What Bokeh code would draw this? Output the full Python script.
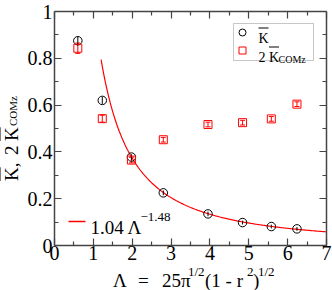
import numpy as np
from bokeh.plotting import figure
from bokeh.models import (Label, LinearAxis, FixedTicker, CustomJSTickFormatter,
                          BoxAnnotation, Range1d, Whisker, ColumnDataSource, TeeHead, Div)
from bokeh.layouts import row, column
from bokeh.embed import file_html
from bokeh.resources import INLINE

# ---------------- data ----------------
lam = [0.6, 1.23, 1.98, 2.8, 3.95, 4.84, 5.58, 6.24]
K_bar = [0.875, 0.62, 0.378, 0.225, 0.135, 0.098, 0.081, 0.071]
K_bar_err = [0.018, 0.015, 0.012, 0.01, 0.01, 0.008, 0.008, 0.008]
K_comz2 = [0.843, 0.542, 0.365, 0.452, 0.517, 0.525, 0.541, 0.604]
K_comz2_err = [0.022, 0.015, 0.012, 0.01, 0.01, 0.01, 0.01, 0.01]
fit_a = 1.04
fit_b = -1.48
fit_start = 1.2
x_ticks = [0, 1, 2, 3, 4, 5, 6, 7]
y_ticks = [0, 0.2, 0.4, 0.6, 0.8, 1.0]
x_minor = [0.5, 1.5, 2.5, 3.5, 4.5, 5.5, 6.5]
y_minor = [0.1, 0.3, 0.5, 0.7, 0.9]

FONT = "Liberation Serif"
QFONT = "'Liberation Serif', 'Times New Roman', serif"
RED = "#ff0000"
AX = "#444444"

YDIV_W = 22
FIG_W, FIG_H = 310, 266
XDIV_H = 24
MB_L, MB_R, MB_T, MB_B = 32, 6, 11, 21

p = figure(width=FIG_W, height=FIG_H, output_backend="svg", toolbar_location=None,
           x_range=Range1d(0, 7), y_range=Range1d(0, 1),
           min_border_left=MB_L, min_border_right=MB_R,
           min_border_top=MB_T, min_border_bottom=MB_B,
           x_axis_location=None, y_axis_location=None, margin=0)
p.grid.visible = False
p.outline_line_color = None
p.background_fill_color = "white"
p.border_fill_color = "white"

# frame geometry in page pixels
FX0 = YDIV_W + MB_L
FX1 = YDIV_W + FIG_W - MB_R
FY0 = MB_T
FY1 = FIG_H - MB_B
XS = (FX1 - FX0) / 7.0
YS = (FY1 - FY0) / 1.0


def dx(wx):
    return (wx - FX0) / XS


def dy(wy):
    return (FY1 - wy) / YS


fmt = CustomJSTickFormatter(code="return tick.toFixed(1).replace(/\\.0$/, '');")
blank = CustomJSTickFormatter(code="return '';")


def make_axis(kind, show_labels, standoff=3):
    t = FixedTicker(ticks=x_ticks if kind == "x" else y_ticks,
                    minor_ticks=x_minor if kind == "x" else y_minor)
    ax = LinearAxis(ticker=t, formatter=fmt if show_labels else blank)
    ax.axis_line_color = AX
    ax.axis_line_width = 1.5
    ax.major_tick_line_color = AX
    ax.minor_tick_line_color = AX
    ax.major_tick_line_width = 1.2
    ax.minor_tick_line_width = 1.2
    ax.major_tick_in = 7
    ax.major_tick_out = 0
    ax.minor_tick_in = 4
    ax.minor_tick_out = 0
    ax.major_label_text_font = QFONT
    ax.major_label_text_font_size = "20px"
    if show_labels:
        ax.major_label_text_color = "black"
        ax.major_label_standoff = standoff
    else:
        ax.major_label_text_color = None
        ax.major_label_standoff = 0
    return ax


p.add_layout(make_axis("x", True, 0), "below")
p.add_layout(make_axis("x", False), "above")
p.add_layout(make_axis("y", True, 2), "left")
p.add_layout(make_axis("y", False), "right")

# fit curve
xf = np.linspace(fit_start, 7, 200)
p.line(xf, fit_a * xf ** fit_b, line_color=RED, line_width=1.2)

# error bars
p.segment(x0=lam, x1=lam, y0=[a - e for a, e in zip(K_bar, K_bar_err)],
          y1=[a + e for a, e in zip(K_bar, K_bar_err)], line_color="black", line_width=1)
src_c = ColumnDataSource(dict(x=lam, lo=[a - e for a, e in zip(K_comz2, K_comz2_err)],
                              hi=[a + e for a, e in zip(K_comz2, K_comz2_err)]))
p.add_layout(Whisker(source=src_c, base="x", lower="lo", upper="hi", line_color=RED,
                     line_width=1, upper_head=TeeHead(size=5, line_color=RED),
                     lower_head=TeeHead(size=5, line_color=RED)))

p.scatter(lam, K_bar, marker="circle", size=8.5, fill_color=None, line_color="black", line_width=1)
p.scatter(lam, K_comz2, marker="square", size=8, fill_color=None, line_color=RED, line_width=1)


def lab(text, wx, wy, size, color="black"):
    p.add_layout(Label(x=dx(wx), y=dy(wy), text=text, text_font=QFONT,
                       text_font_size=f"{size}px", text_color=color,
                       text_align="left", text_baseline="alphabetic"))


def overline(wx0, wx1, wy, color="black"):
    p.segment(x0=[dx(wx0)], x1=[dx(wx1)], y0=[dy(wy)], y1=[dy(wy)], line_color=color, line_width=1)


# legend box (top right)
p.add_layout(BoxAnnotation(left=dx(233), right=dx(313), top=dy(23), bottom=dy(60),
                           fill_color=None, line_color=AX, line_width=1))
p.scatter([dx(242)], [dy(32)], marker="circle", size=7, fill_color=None, line_color="black")
p.scatter([dx(242)], [dy(50)], marker="square", size=7, fill_color=None, line_color=RED)
lab("K", 258, 38, 14)
overline(258, 268, 27.5)
lab("2 K", 258, 57, 14)
overline(268.5, 278.5, 46.5)
lab("COMz", 278, 59, 10)

# fit legend (bottom left)
p.segment(x0=[dx(68)], y0=[dy(221)], x1=[dx(85)], y1=[dy(221)], line_color=RED, line_width=1.5)
lab("1.04 \u039b", 90, 227, 19)
lab("\u22121.48", 140, 216, 13)


# ---------------- axis titles as HTML text ----------------
def span(txt, left, top, size, extra=""):
    return (f'<span style="position:absolute; left:{left}px; top:{top}px; font-size:{size}px; '
            f'line-height:{size}px; white-space:nowrap; {extra}">{txt}</span>')


KOV = '<span style="text-decoration:overline">K</span>'
# y title: rotated block, text starts at page y=181 and runs upward
y_parts = (span(KOV + ",", 0, 0, 19)
           + span("2", 26, 0, 19)
           + span(KOV, 40, 0, 19)
           + span("COMz", 55, 6, 11))
ydiv = Div(width=YDIV_W, height=FIG_H, margin=0, text=(
    f'<div style="position:relative; width:130px; height:22px; transform-origin:0 0; '
    f'transform:translate(1.5px,181px) rotate(-90deg); font-family:\'{FONT}\'; color:black;">'
    f'{y_parts}</div>'))


# x title pieces (page x, baseline page y)
def xpiece(txt, wx, base, size):
    top = base - FIG_H - 0.8375 * size
    return span(txt, wx, round(top, 1), size)


x_parts = (xpiece("\u039b", 113, 287, 19)
           + xpiece("=", 138, 287, 19)
           + xpiece("25\u03c0", 162, 287, 19)
           + xpiece("1/2", 188, 276, 13)
           + xpiece("(1 - r", 205, 287, 19)
           + xpiece("2", 247, 276, 13)
           + xpiece(")", 253, 287, 19)
           + xpiece("1/2", 258, 276, 13))
xdiv = Div(width=YDIV_W + FIG_W, height=XDIV_H, margin=0, text=(
    f'<div style="position:relative; width:{YDIV_W + FIG_W}px; height:{XDIV_H}px; '
    f'font-family:\'{FONT}\'; color:black;">{x_parts}</div>'))

layout = column(row(ydiv, p, spacing=0), xdiv, spacing=0)
open("out.html", "w").write(file_html(layout, INLINE))
